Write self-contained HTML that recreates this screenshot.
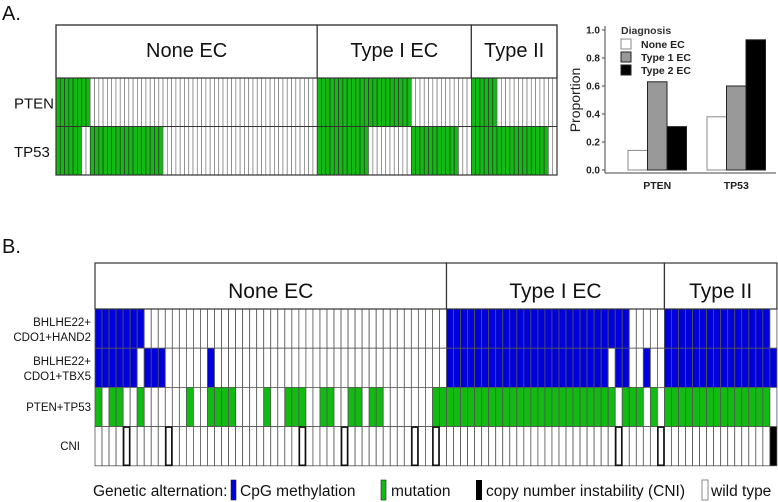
<!DOCTYPE html>
<html><head><meta charset="utf-8"><style>
html,body{margin:0;padding:0;background:#fff;}
svg{display:block;font-family:"Liberation Sans",Arial,sans-serif;}
</style></head><body>
<svg id="fig" width="778" height="502" viewBox="0 0 778 502" xmlns="http://www.w3.org/2000/svg">
<text x="2" y="20" font-size="20" fill="#111">A.</text>
<text x="2" y="253" font-size="20" fill="#111">B.</text>
<g id="gA"></g>
<g id="gBar"></g>
<g id="gB"></g>
<g id="legB">
<text x="93" y="496" font-size="15.5" fill="#111">Genetic alternation:</text>
<rect x="231" y="480" width="5" height="20" fill="#0000dd" stroke="#222" stroke-width="0.6"/>
<text x="240" y="496" font-size="15.5" fill="#111">CpG methylation</text>
<rect x="381" y="480" width="5" height="20" fill="#11bb11" stroke="#222" stroke-width="0.6"/>
<text x="391" y="496" font-size="15.5" fill="#111">mutation</text>
<rect x="476" y="480" width="6" height="20" fill="#000"/>
<text x="486" y="496" font-size="15.5" fill="#111">copy number instability (CNI)</text>
<rect x="702" y="480" width="6" height="20" fill="#fff" stroke="#888" stroke-width="1"/>
<text x="711" y="496" font-size="15.5" fill="#111">wild type</text>
</g>
</svg>
<script>
// ---------- Panel A data ----------
const aGroups = ["None EC","Type I EC","Type II"];
const aGroupCounts = [61,36,20];
const aGenes = ["PTEN","TP53"];
const aPtenMutRanges = [[0,7],[61,82],[97,102]];
const aTp53MutRanges = [[0,5],[8,24],[61,72],[83,93],[97,114]];
// ---------- Bar chart data ----------
const barGenes = ["PTEN","TP53"];
const barSeries = ["None EC","Type 1 EC","Type 2 EC"];
const barNone = [0.14,0.38];
const barType1 = [0.63,0.60];
const barType2 = [0.31,0.93];
const barTicks = ["0.0","0.2","0.4","0.6","0.8","1.0"];
// ---------- Panel B data ----------
const bGroups = ["None EC","Type I EC","Type II"];
const bGroupCounts = [50,31,16];
const bRows = ["BHLHE22+|CDO1+HAND2","BHLHE22+|CDO1+TBX5","PTEN+TP53","CNI"];
const bHand2Ranges = [[0,6],[50,75],[81,95]];
const bTbx5Ranges = [[0,5],[7,9],[16,16],[50,72],[74,75],[78,78],[81,96]];
const bMutRanges = [[0,0],[2,3],[6,6],[13,13],[16,19],[24,24],[27,29],[32,33],[36,37],[39,40],[48,73],[75,77],[79,79],[81,95]];
const bCniOutlined = [4,10,29,35,45,48,74,80];
const bCniFilled = [96];

const NS="http://www.w3.org/2000/svg";
function mk(tag,attrs,parent){const e=document.createElementNS(NS,tag);for(const k in attrs)e.setAttribute(k,attrs[k]);parent.appendChild(e);return e;}
function inRanges(i,r){return r.some(([a,b])=>i>=a&&i<=b);}
const GREEN="#11bb11", BLUE="#0000dd";

// ---------- Panel A ----------
(function(){
  const g=document.getElementById('gA');
  const x0=56,x1=557,yTop=25,yHead=78,rowH=48.5;
  const n=aGroupCounts.reduce((a,b)=>a+b,0);
  const w=(x1-x0)/n;
  const xs=i=>x0+i*w;
  const rowSets=[aPtenMutRanges,aTp53MutRanges];
  rowSets.forEach((rs,r)=>{
    const y=yHead+r*rowH;
    for(let i=0;i<n;i++){
      const m=inRanges(i,rs);
      const c=mk('rect',{x:xs(i),y:y,width:w,height:rowH,fill:m?GREEN:'#fff',stroke:m?'#333':'#777','stroke-width':0.7},g);
      
      
    }
    const t=mk('text',{x:14,y:y+rowH/2+6,'font-size':15,fill:'#111'},g);t.textContent=aGenes[r];
    
    
  });
  mk('line',{x1:x0,y1:yHead+rowH,x2:x1,y2:yHead+rowH,stroke:'#333','stroke-width':1},g);
  let start=0;
  aGroups.forEach((name,k)=>{
    const gx=xs(start),gw=aGroupCounts[k]*w;
    const h=mk('rect',{x:gx,y:yTop,width:gw,height:yHead-yTop,fill:'#fff',stroke:'#333','stroke-width':1.2},g);
    
    
    const t=mk('text',{x:gx+gw/2,y:57,'font-size':20,'text-anchor':'middle',fill:'#111'},g);t.textContent=name;
    
    
    start+=aGroupCounts[k];
  });
  mk('rect',{x:x0,y:yTop,width:x1-x0,height:yHead-yTop+2*rowH,fill:'none',stroke:'#333','stroke-width':1.2},g);
})();

// ---------- Bar chart ----------
(function(){
  const g=document.getElementById('gBar');
  const axX=605,y0=170,yMax=30;
  const ys=v=>y0-(y0-yMax)*v;
  const groupX=[628,707], bw=19.5;
  mk('line',{x1:axX,y1:yMax-4,x2:axX,y2:y0+3,stroke:'#444','stroke-width':1},g);
  mk('line',{x1:axX,y1:y0+3,x2:776,y2:y0+3,stroke:'#444','stroke-width':1},g);
  barTicks.forEach(s=>{
    const v=parseFloat(s),y=ys(v);
    mk('line',{x1:axX-3,y1:y,x2:axX,y2:y,stroke:'#444','stroke-width':1},g);
    const t=mk('text',{x:axX-5,y:y+3.5,'font-size':10,'font-weight':'bold','text-anchor':'end',fill:'#222'},g);t.textContent=s;
    
    
  });
  const yt=mk('text',{x:0,y:0,'font-size':14,'text-anchor':'middle',fill:'#222',transform:'translate(580,100) rotate(-90)'},g);
  yt.textContent='Proportion';
  
  
  const series=[barNone,barType1,barType2];
  const fills=['#fff','#999','#000'];
  barGenes.forEach((gn,gi)=>{
    series.forEach((s,si)=>{
      const v=s[gi];
      const b=mk('rect',{x:groupX[gi]+si*bw,y:ys(v),width:bw,height:y0-ys(v),fill:fills[si],stroke:si==0?'#888':'#222','stroke-width':1},g);
      
      
    });
    const t=mk('text',{x:groupX[gi]+1.5*bw,y:189,'font-size':10.5,'font-weight':'bold','text-anchor':'middle',fill:'#222'},g);t.textContent=gn;
    
    
  });
  const lt=mk('text',{x:621,y:34,'font-size':10.5,'font-weight':'bold',fill:'#333'},g);lt.textContent='Diagnosis';
  
  
  barSeries.forEach((s,i)=>{
    const y=39+i*13;
    const r=mk('rect',{x:621,y:y,width:10,height:10,fill:fills[i],stroke:i==0?'#888':'#222','stroke-width':1},g);
    
    
    const t=mk('text',{x:641,y:y+9,'font-size':10.5,'font-weight':'bold',fill:'#222'},g);t.textContent=s;
    
    
  });
})();

// ---------- Panel B ----------
(function(){
  const g=document.getElementById('gB');
  const x0=95,yTop=263,yHead=309,rowH=39.2;
  const n=bGroupCounts.reduce((a,b)=>a+b,0);
  const w=7.03;
  const xs=i=>x0+i*w;
  const rowFill=[
    i=>inRanges(i,bHand2Ranges)?BLUE:'#fff',
    i=>inRanges(i,bTbx5Ranges)?BLUE:'#fff',
    i=>inRanges(i,bMutRanges)?GREEN:'#fff',
    i=>bCniFilled.includes(i)?'#000':'#fff'
  ];
  bRows.forEach((name,r)=>{
    const y=yHead+r*rowH;
    for(let i=0;i<n;i++){
      const c=mk('rect',{x:xs(i),y:y,width:w,height:rowH,fill:rowFill[r](i),stroke:'#555','stroke-width':0.8},g);
      
      
    }
    const parts=name.split('|');
    const t=mk('text',{x:91,y:0,'font-size':11.5,'text-anchor':'end',fill:'#111'},g);
    
    
    if(parts.length==2){
      mk('tspan',{x:91,y:y+17},t).textContent=parts[0];
      mk('tspan',{x:91,y:y+32},t).textContent=parts[1];
    } else {
      t.setAttribute('y',y+rowH/2+4);
      if(name=='CNI') t.setAttribute('x',80);
      t.textContent=name;
    }
  });
  const yC=yHead+3*rowH;
  bCniOutlined.forEach(i=>{
    const o=mk('rect',{x:xs(i)+0.5,y:yC+0.5,width:w-1,height:rowH-1,fill:'none',stroke:'#111','stroke-width':1.6},g);
    
    
  });
  let start=0;
  bGroups.forEach((name,k)=>{
    const gx=xs(start),gw=bGroupCounts[k]*w;
    const h=mk('rect',{x:gx,y:yTop,width:gw,height:yHead-yTop,fill:'#fff',stroke:'#333','stroke-width':1.2},g);
    
    
    const t=mk('text',{x:gx+gw/2,y:298,'font-size':21,'text-anchor':'middle',fill:'#111'},g);t.textContent=name;
    
    
    start+=bGroupCounts[k];
  });
})();
</script>
</body></html>
